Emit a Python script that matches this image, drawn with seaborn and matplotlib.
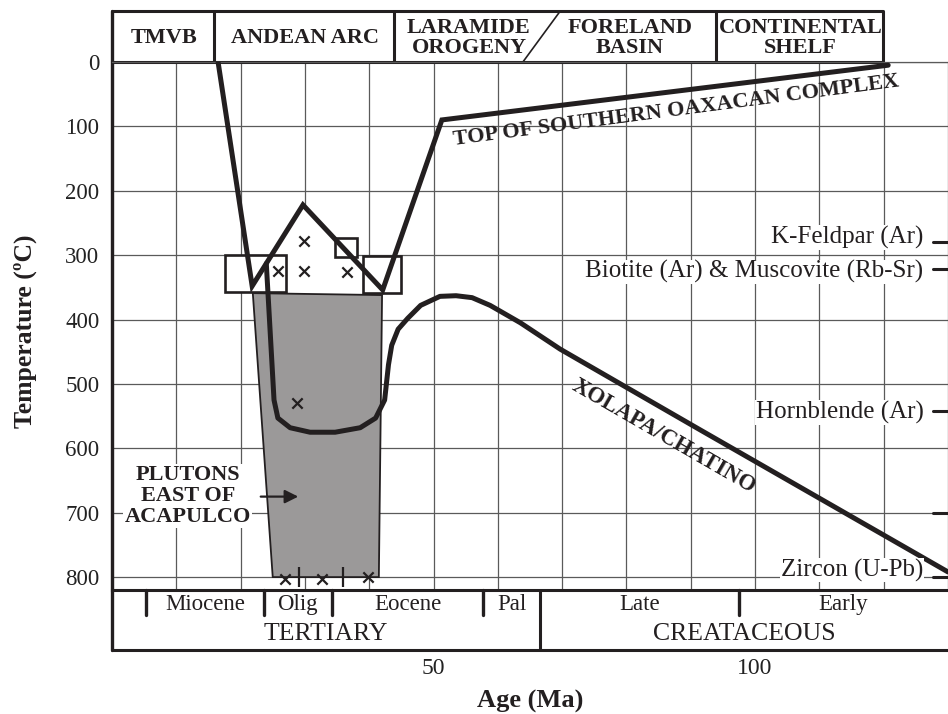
import numpy as np
import pandas as pd
import matplotlib.pyplot as plt
import seaborn as sns
from matplotlib.patches import Polygon, Rectangle

# ages in Ma, temperatures in deg C

# thick cooling path: TMVB -> Andean arc -> top of southern Oaxacan complex
path_age = [16.5, 21.8, 29.7, 42.1, 51.3, 120.7]
path_temp = [0, 348, 222, 354, 90, 5]

# Xolapa / Chatino curve
xolapa_age = [24.0, 25.2, 25.8, 27.7, 30.8, 34.7, 38.6, 41.0, 42.4, 43.0, 43.5,
              44.5, 46.0, 48.0, 51.0, 53.5, 56.0, 58.8, 63.5, 69.7, 91.4, 130.0]
xolapa_temp = [313, 525, 553, 568, 575, 575, 568, 553, 525, 470, 440,
               415, 398, 378, 364, 363, 366, 378, 405, 446, 571, 792]

# plutons east of Acapulco (grey field)
pluton_age = [21.9, 42.0, 41.5, 25.0]
pluton_temp = [359, 362, 800, 800]

# Andean arc field (white, above the grey field)
arc_age = [21.8, 29.7, 42.1, 42.0, 21.9]
arc_temp = [348, 222, 354, 362, 359]

# age / temperature boxes
box_age = [(17.5, 27.0), (34.7, 38.1), (39.0, 45.0)]
box_temp = [(300, 357), (273, 303), (301, 359)]

# sample points
x_age = [25.8, 29.9, 29.9, 36.5, 28.8, 26.9, 32.7, 39.8]
x_temp = [325, 278, 325, 326, 529, 803, 803, 800]
bar_age = [29.1, 35.9]
bar_temp = [800, 800]

# closure temperatures on the right side
minerals = ['K-Feldpar (Ar)', 'Biotite (Ar) & Muscovite (Rb-Sr)', 'Hornblende (Ar)', '', 'Zircon (U-Pb)']
mineral_temp = [280, 321, 542, 700, 800]

# tectonic regimes (header)
regimes = ['TMVB', 'ANDEAN ARC', 'LARAMIDE\nOROGENY', 'FORELAND\nBASIN', 'CONTINENTAL\nSHELF']
regime_bounds = [0, 15.8, 43.8, 66.8, 93.9, 119.9]

# time scale
epochs = ['Miocene', 'Olig', 'Eocene', 'Pal', 'Late', 'Early']
epoch_bounds = [5.3, 23.6, 34.2, 57.7, 66.6, 97.5, 130]
periods = ['TERTIARY', 'CREATACEOUS']
period_bounds = [0, 66.6, 130]

temp_ticks = list(range(0, 900, 100))
age_ticks = [50, 100]

sns.set_theme(style='white')
plt.rcParams['font.family'] = ['Liberation Serif', 'DejaVu Serif']

ink = '#231f20'
grid_c = '#5a5a5a'

fig = plt.figure(figsize=(9.48, 7.14), dpi=100)
ax = fig.add_axes([0.1181, 0.1737, 0.8819, 0.7395])
ax.set_xlim(0, 130)
ax.set_ylim(820, 0)

# grid
ax.set_xticks(np.arange(10, 130, 10), minor=True)
ax.set_xticks(age_ticks)
ax.set_xticklabels([str(a) for a in age_ticks], fontsize=17)
ax.set_yticks(temp_ticks)
ax.set_yticklabels([str(t) for t in temp_ticks], fontsize=16.5)
ax.grid(True, which='both', color=grid_c, lw=0.9)
ax.set_axisbelow(True)
ax.tick_params(axis='y', length=0, pad=9, colors='#222222')
ax.tick_params(axis='x', which='major', length=9, width=0.9, color=grid_c,
               direction='out', pad=40, labelcolor='#222222')
ax.tick_params(axis='x', which='minor', length=0)
for s in ['top', 'right']:
    ax.spines[s].set_color(grid_c)
    ax.spines[s].set_linewidth(0.9)
for s in ['left', 'bottom']:
    ax.spines[s].set_color(ink)
    ax.spines[s].set_linewidth(2.2)

# white arc field and grey pluton field
ax.add_patch(Polygon(list(zip(arc_age, arc_temp)), closed=True,
                     facecolor='white', edgecolor='none', zorder=1.8))
ax.add_patch(Polygon(list(zip(pluton_age, pluton_temp)), closed=True,
                     facecolor='#9b9999', edgecolor=ink, lw=1.3, zorder=2))

# boxes
for (a0, a1), (t0, t1) in zip(box_age, box_temp):
    ax.add_patch(Rectangle((a0, t0), a1 - a0, t1 - t0, facecolor='white',
                           edgecolor=ink, lw=1.9, zorder=3))

# thick curves
sns.lineplot(x=path_age, y=path_temp, sort=False, estimator=None, color=ink,
             lw=3.6, ax=ax, zorder=4, solid_joinstyle='miter')
sns.lineplot(x=xolapa_age, y=xolapa_temp, sort=False, estimator=None, color=ink,
             lw=3.6, ax=ax, zorder=4)

# sample markers
sns.scatterplot(x=x_age, y=x_temp, marker='x', s=55, color=ink, linewidth=1.6,
                ax=ax, zorder=5)
sns.scatterplot(x=bar_age, y=bar_temp, marker='|', s=190, color=ink, linewidth=1.6,
                ax=ax, zorder=5)

# arrow + pluton label
ax.annotate('', xy=(29.4, 675), xytext=(22.7, 675),
            arrowprops=dict(arrowstyle='-|>', color=ink, lw=1.6, mutation_scale=20),
            zorder=6)
ax.text(11.8, 674, 'PLUTONS\nEAST OF\nACAPULCO', ha='center', va='center',
        fontsize=16, fontweight='bold', linespacing=1.05, color=ink, zorder=6,
        bbox=dict(facecolor='white', edgecolor='none', pad=1))

# curve labels
ax.text(87.7, 76, 'TOP OF SOUTHERN OAXACAN COMPLEX', rotation=7.5, ha='center',
        va='center', fontsize=16, fontweight='bold', color=ink, zorder=6)
ax.text(85.8, 582, 'XOLAPA/CHATINO', rotation=-30, ha='center', va='center',
        fontsize=16.5, fontweight='bold', color=ink, zorder=6)

# closure temperature marks
lab_shift = [-7, 5, 2, 0, -11]
for name, t, dt in zip(minerals, mineral_temp, lab_shift):
    ax.plot([127.7, 130], [t, t], color=ink, lw=2.2, zorder=6, clip_on=False)
    if name:
        ax.text(126.2, t + dt, name, ha='right', va='center', fontsize=18, color=ink,
                zorder=6, bbox=dict(facecolor='white', edgecolor='none', pad=0.5))

# header with tectonic regimes
top = -79
ax.plot([0, 119.9, 119.9], [top, top, 0], color=ink, lw=2.2, clip_on=False)
ax.plot([0, 119.9], [0, 0], color=ink, lw=2.2, clip_on=False)
ax.plot([15.8, 15.8], [top, 0], color=ink, lw=2.2, clip_on=False)
ax.plot([43.8, 43.8], [top, 0], color=ink, lw=2.2, clip_on=False)
ax.plot([93.9, 93.9], [top, 0], color=ink, lw=2.2, clip_on=False)
ax.plot([69.7, 63.9], [top, 0], color=ink, lw=1.2, clip_on=False)
for i, name in enumerate(regimes):
    mid = (regime_bounds[i] + regime_bounds[i + 1]) / 2
    ax.text(mid + 0.2, -38, name, ha='center', va='center', fontsize=16,
            fontweight='bold', linespacing=1.0, color=ink)

# time scale below the axis
bottom = 913
ax.plot([0, 130], [bottom, bottom], color=ink, lw=2.2, clip_on=False)
ax.plot([0, 0], [top, bottom], color=ink, lw=2.4, clip_on=False)
for b in epoch_bounds[:-1]:
    if b == period_bounds[1]:
        ax.plot([b, b], [820, bottom], color=ink, lw=2.2, clip_on=False)
    else:
        ax.plot([b, b], [820, 859], color=ink, lw=2.4, clip_on=False)
for i, name in enumerate(epochs):
    mid = (epoch_bounds[i] + epoch_bounds[i + 1]) / 2
    ax.text(mid, 843, name, ha='center', va='center', fontsize=16.5, color=ink)
for i, name in enumerate(periods):
    mid = (period_bounds[i] + period_bounds[i + 1]) / 2
    ax.text(mid, 889, name, ha='center', va='center', fontsize=18.5, color=ink)

ax.set_xlabel('Age (Ma)', fontsize=19, fontweight='bold', color=ink)
ax.xaxis.set_label_coords(0.5, -0.19)
ax.set_ylabel('Temperature (ºC)', fontsize=18.5, fontweight='bold', color=ink)
ax.yaxis.set_label_coords(-0.09, 0.49)

fig.savefig('out.png', dpi=100)
